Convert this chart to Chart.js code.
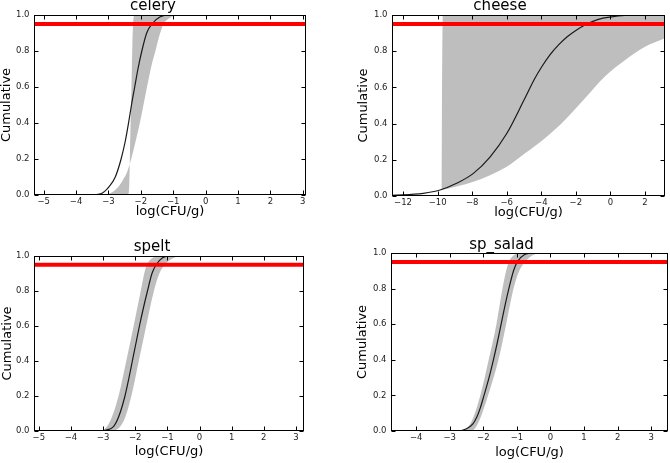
<!DOCTYPE html>
<html>
<head>
<meta charset="utf-8">
<script src="https://cdn.jsdelivr.net/npm/chart.js@4.4.1/dist/chart.umd.min.js"></script>
<style>
  html, body { margin: 0; padding: 0; background: #fff; }
  #wrap { position: relative; width: 670px; height: 463px; overflow: hidden; }
  .cell { position: absolute; }
</style>
</head>
<body>
<div id="wrap">
  <div class="cell" style="left:0;top:0"><canvas id="celery" width="335" height="232"></canvas></div>
  <div class="cell" style="left:335px;top:0"><canvas id="cheese" width="335" height="232"></canvas></div>
  <div class="cell" style="left:0;top:232px"><canvas id="spelt" width="335" height="231"></canvas></div>
  <div class="cell" style="left:335px;top:232px"><canvas id="sp_salad" width="335" height="231"></canvas></div>
</div>
<script>
// ---- data: [log(CFU/g), cumulative] ----
const celeryMean = [[-5.3,0],[-3.6,0],[-3.2,0.01],[-2.98,0.046],[-2.79,0.1],[-2.61,0.2],[-2.48,0.3],[-2.38,0.4],[-2.29,0.5],[-2.19,0.6],[-2.09,0.7],[-1.97,0.8],[-1.82,0.9],[-1.66,0.95],[-1.4,0.99],[-1.1,1.0],[3.1,1.0]];
const celeryHigh = [[-5.3,0],[-2.4,0],[-2.36,0.05],[-2.33,0.3],[-2.29,0.6],[-2.26,0.85],[-2.24,0.95],[-2.2,1.0],[3.1,1.0]];
const celeryLow  = [[-5.3,0],[-3.1,0],[-3.0,0.005],[-2.85,0.02],[-2.7,0.045],[-2.55,0.085],[-2.43,0.125],[-2.33,0.18],[-2.2,0.27],[-2.02,0.41],[-1.81,0.6],[-1.67,0.72],[-1.55,0.8],[-1.42,0.89],[-1.3,0.95],[-1.1,0.985],[-0.85,1.0],[3.1,1.0]];

const cheeseMean = [[-12.64,0.004],[-10.83,0.015],[-9.86,0.033],[-8.9,0.07],[-7.93,0.125],[-6.97,0.215],[-6.0,0.345],[-5.0,0.53],[-4.4,0.645],[-4.0,0.71],[-3.5,0.78],[-3.0,0.835],[-2.5,0.88],[-2.0,0.915],[-1.47,0.945],[-0.7,0.976],[0.07,0.99],[0.84,0.998],[1.5,1.0],[3.16,1.0]];
const cheeseHigh = [[-9.78,0.033],[-9.7,1.0],[3.16,1.0]];
const cheeseLow  = [[-9.78,0.033],[-7.93,0.079],[-6.0,0.162],[-4.94,0.236],[-3.79,0.319],[-2.63,0.42],[-1.47,0.54],[-0.32,0.66],[0.84,0.75],[2.0,0.825],[3.16,0.872]];

const speltMean = [[-5.15,0],[-3.2,0],[-2.9,0.006],[-2.67,0.027],[-2.51,0.084],[-2.32,0.2],[-2.2,0.3],[-2.09,0.4],[-1.98,0.5],[-1.87,0.6],[-1.75,0.7],[-1.62,0.8],[-1.48,0.9],[-1.35,0.95],[-1.15,0.99],[-0.9,1.0],[3.25,1.0]];
const speltHigh = [[-5.15,0],[-3.1,0],[-2.8,0.05],[-2.52,0.2],[-2.28,0.4],[-2.05,0.6],[-1.83,0.8],[-1.72,0.9],[-1.64,0.95],[-1.45,0.99],[-1.25,1.0],[3.25,1.0]];
const speltLow  = [[-5.15,0],[-2.8,0],[-2.38,0.05],[-2.12,0.2],[-1.89,0.4],[-1.66,0.6],[-1.42,0.8],[-1.25,0.9],[-1.08,0.95],[-0.8,0.99],[-0.45,1.0],[3.25,1.0]];

const saladMean = [[-4.75,0],[-2.8,0],[-2.5,0.013],[-2.31,0.04],[-2.19,0.08],[-2.09,0.13],[-1.98,0.2],[-1.83,0.3],[-1.7,0.4],[-1.58,0.5],[-1.47,0.6],[-1.36,0.7],[-1.24,0.8],[-1.1,0.9],[-0.99,0.95],[-0.78,0.99],[-0.5,1.0],[3.5,1.0]];
const saladHigh = [[-4.75,0],[-2.65,0],[-2.36,0.05],[-2.09,0.2],[-1.84,0.4],[-1.61,0.6],[-1.43,0.8],[-1.32,0.9],[-1.24,0.95],[-1.07,0.99],[-0.85,1.0],[3.5,1.0]];
const saladLow  = [[-4.75,0],[-2.35,0],[-2.14,0.05],[-1.86,0.2],[-1.55,0.4],[-1.32,0.6],[-1.1,0.8],[-0.93,0.9],[-0.76,0.95],[-0.5,0.99],[-0.2,1.0],[3.5,1.0]];

const threshold = 0.95;

// axis limits and tick labels
const celeryRange = [-5.3, 3.1],   celeryTicks = [-5, -4, -3, -2, -1, 0, 1, 2, 3];
const cheeseRange = [-12.64, 3.16], cheeseTicks = [-12, -10, -8, -6, -4, -2, 0, 2];
const speltRange  = [-5.15, 3.25],  speltTicks  = [-5, -4, -3, -2, -1, 0, 1, 2, 3];
const saladRange  = [-4.75, 3.5],   saladTicks  = [-4, -3, -2, -1, 0, 1, 2, 3];
const yTicks = [0, 0.2, 0.4, 0.6, 0.8, 1.0];

Chart.defaults.font.family = "'DejaVu Sans', sans-serif";

const GRAY = '#bebebe';
const toPts = arr => arr.map(([x, y]) => ({ x, y }));
const minus = v => (v < 0 ? '\u2212' + Math.abs(v) : String(v));

// matplotlib-style frame with inward tick marks
const frameTicks = {
  id: 'frameTicks',
  afterDatasetsDraw(chart) {
    const { ctx, chartArea: a, scales: { x, y } } = chart;
    const L = Math.round(a.left) + 0.5, R = Math.round(a.right) - 0.5;
    const T = Math.round(a.top) + 0.5, B = Math.round(a.bottom) - 0.5;
    ctx.save();
    ctx.strokeStyle = '#000';
    ctx.lineWidth = 1;
    ctx.beginPath();
    x.ticks.forEach(t => {
      const px = Math.round(x.getPixelForValue(t.value)) + 0.5;
      ctx.moveTo(px, B); ctx.lineTo(px, B - 4);
      ctx.moveTo(px, T); ctx.lineTo(px, T + 4);
    });
    y.ticks.forEach(t => {
      const py = Math.round(y.getPixelForValue(t.value)) + 0.5;
      ctx.moveTo(L, py); ctx.lineTo(L + 4, py);
      ctx.moveTo(R, py); ctx.lineTo(R - 4, py);
    });
    ctx.stroke();
    ctx.strokeRect(L, T, R - L, B - T);
    ctx.restore();
  }
};

function panel(id, name, mean, high, low, range, ticks, lay) {
  const curve = { pointRadius: 0, cubicInterpolationMode: 'monotone' };
  new Chart(document.getElementById(id), {
    type: 'line',
    data: {
      datasets: [
        { ...curve, data: toPts(high), borderWidth: 0, fill: '+1', backgroundColor: GRAY, order: 3 },
        { ...curve, data: toPts(low), borderWidth: 0, fill: false, order: 3 },
        { ...curve, data: toPts(mean), borderColor: '#1a1a1a', borderWidth: 1.2, fill: false, order: 2 },
        { data: [{ x: range[0], y: threshold }, { x: range[1], y: threshold }],
          borderColor: '#f00', borderWidth: 4, pointRadius: 0, fill: false, order: 1 },
      ],
    },
    options: {
      responsive: false,
      animation: false,
      events: [],
      layout: { padding: { left: 0, right: lay.right, top: 0, bottom: 0 } },
      plugins: {
        legend: { display: false },
        tooltip: { enabled: false },
        title: {
          display: true, text: name, color: '#000',
          font: { size: 15, lineHeight: 1, weight: 'normal' },
          padding: { top: lay.titlePad[0], bottom: lay.titlePad[1] },
        },
      },
      scales: {
        x: {
          type: 'linear', min: range[0], max: range[1],
          afterBuildTicks: s => { s.ticks = ticks.map(v => ({ value: v })); },
          afterFit: s => { s.height = lay.xHeight; },
          grid: { display: false, drawTicks: false },
          border: { display: false },
          ticks: { callback: minus, color: '#222', font: { size: 8.5 }, padding: 1.5, maxRotation: 0, autoSkip: false },
          title: { display: true, text: 'log(CFU/g)', color: '#000', font: { size: 13, lineHeight: 1 },
                   padding: { top: 0, bottom: lay.xTitlePad } },
        },
        y: {
          type: 'linear', min: 0, max: 1,
          afterBuildTicks: s => { s.ticks = yTicks.map(v => ({ value: v })); },
          afterFit: s => { s.width = lay.yWidth; },
          grid: { display: false, drawTicks: false },
          border: { display: false },
          ticks: { callback: v => v.toFixed(1), color: '#222', font: { size: 8.5 }, padding: 4.5 },
          title: { display: true, text: 'Cumulative', color: '#000', font: { size: 13, lineHeight: 1 },
                   padding: { top: lay.yTitlePad, bottom: 0 } },
        },
      },
    },
    plugins: [frameTicks],
  });
}

panel('celery', 'celery', celeryMean, celeryHigh, celeryLow, celeryRange, celeryTicks,
  { right: 29, yWidth: 34, xHeight: 37, titlePad: [-1.5, 1.5], yTitlePad: 0, xTitlePad: 13.5 });
panel('cheese', 'cheese', cheeseMean, cheeseHigh, cheeseLow, cheeseRange, cheeseTicks,
  { right: 5, yWidth: 57, xHeight: 36, titlePad: [-1.5, 1.5], yTitlePad: 22.5, xTitlePad: 12.5 });
panel('spelt', 'spelt', speltMean, speltHigh, speltLow, speltRange, speltTicks,
  { right: 31, yWidth: 34, xHeight: 32, titlePad: [8, 1], yTitlePad: 1, xTitlePad: 4.5 });
panel('sp_salad', 'sp_salad', saladMean, saladHigh, saladLow, saladRange, saladTicks,
  { right: 2, yWidth: 56, xHeight: 32, titlePad: [6, 0], yTitlePad: 21, xTitlePad: 4 });
</script>
</body>
</html>
